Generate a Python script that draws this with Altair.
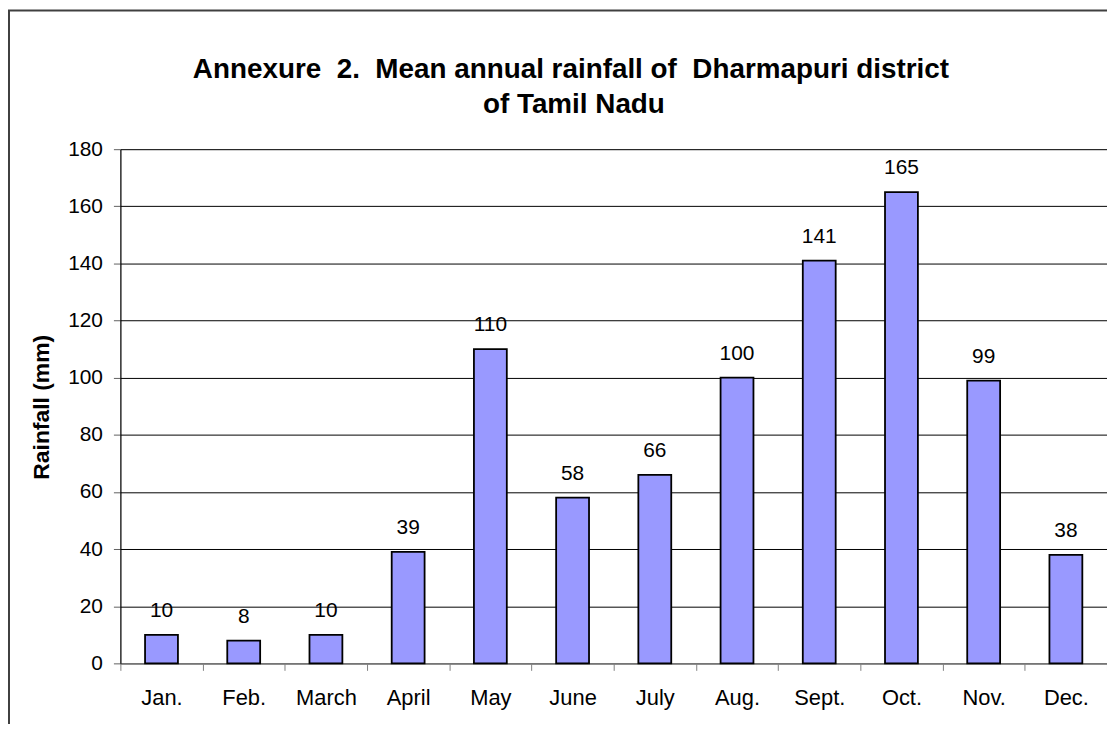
import altair as alt
import pandas as pd

months = ["Jan.", "Feb.", "March", "April", "May", "June", "July", "Aug.",
          "Sept.", "Oct.", "Nov.", "Dec."]
rainfall = [10, 8, 10, 39, 110, 58, 66, 100, 141, 165, 99, 38]
y_ticks = [0, 20, 40, 60, 80, 100, 120, 140, 160, 180]
title_lines = ["Annexure \u00a02. \u00a0Mean annual rainfall of \u00a0Dharmapuri district",
               "of Tamil Nadu"]

df = pd.DataFrame({"month": months, "rain": rainfall})

FONT = "Liberation Sans"

x_enc = alt.X("month:N", sort=months,
              scale=alt.Scale(paddingInner=0, paddingOuter=0),
              axis=alt.Axis(title=None, tickBand="extent", labelAngle=0,
                            labelFont=FONT, labelFontSize=22, labelColor="black",
                            labelBaseline="alphabetic", labelPadding=34,
                            tickSize=7, tickColor="#808080", domainColor="#808080",
                            domainWidth=1.5, grid=False))
y_enc = alt.Y("rain:Q",
              scale=alt.Scale(domain=[0, 180], nice=False),
              axis=alt.Axis(title="Rainfall (mm)", values=y_ticks,
                            labelFont=FONT, labelFontSize=21, labelColor="black",
                            labelPadding=11, tickSize=7, tickColor="#606060",
                            domainColor="black", domainWidth=1.2,
                            gridColor="black", gridWidth=1, gridOpacity=1,
                            titleFont=FONT, titleFontSize=23, titleFontWeight="bold",
                            titleColor="black", titleX=-72, titleY=259,
                            titleAngle=270, titleBaseline="alphabetic",
                            titleAlign="center"))

bars = alt.Chart(df).mark_bar(
    width=alt.RelativeBandSize(0.4), color="#9999FF",
    stroke="black", strokeWidth=1.8
).encode(x=x_enc, y=y_enc)

labels = alt.Chart(df).mark_text(
    font=FONT, fontSize=21, color="black", baseline="alphabetic", dy=-18
).encode(x=alt.X("month:N", sort=months), y="rain:Q", text="rain:Q")

frame = alt.Chart(alt.Data(values=[{"a": 1}])).mark_rect(
    fill=None, stroke="#404040", strokeWidth=2
).encode(x=alt.value(-112), y=alt.value(-139.5),
         x2=alt.value(1200), y2=alt.value(800))

title1 = alt.Chart(alt.Data(values=[{"t": title_lines[0]}])).mark_text(
    font=FONT, fontSize=28, fontWeight="bold", color="black",
    align="center", baseline="alphabetic"
).encode(x=alt.value(453), y=alt.value(-72), text="t:N")

title2 = alt.Chart(alt.Data(values=[{"t": title_lines[1]}])).mark_text(
    font=FONT, fontSize=28, fontWeight="bold", color="black",
    align="center", baseline="alphabetic"
).encode(x=alt.value(456), y=alt.value(-36), text="t:N")

chart = alt.layer(bars, labels, frame, title1, title2).properties(
    width=992, height=517,
    autosize=alt.AutoSizeParams(type="none"),
    padding={"left": 113, "top": 140, "right": 0, "bottom": 59},
).configure_view(stroke=None).configure(background="white")

chart.save("out.html", embed_options={"renderer": "svg", "actions": False})
